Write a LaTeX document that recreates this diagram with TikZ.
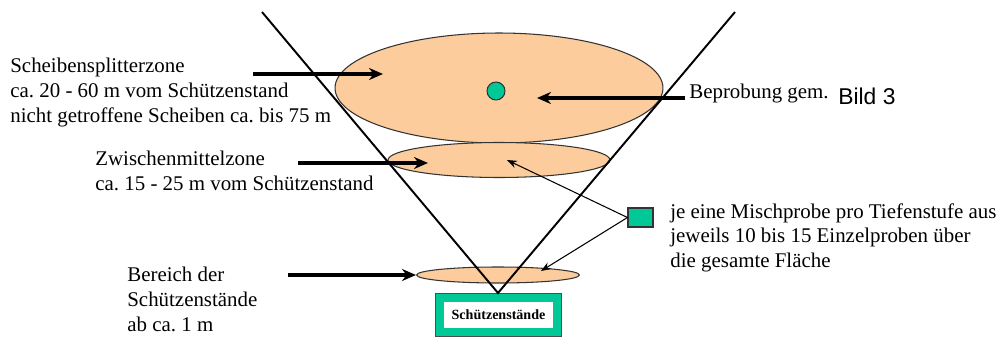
\documentclass[tikz,border=0pt]{standalone}
\usepackage{fontspec}
\setmainfont{Liberation Serif}
\setsansfont{Liberation Sans}
\usetikzlibrary{shapes.geometric, arrows.meta, positioning, calc}
\definecolor{zonefill}{RGB}{252,204,156}
\definecolor{probegreen}{RGB}{0,200,150}
\frenchspacing

\begin{document}
\begin{tikzpicture}[
      x=0.02cm, y=-0.02cm,
      font=\fontsize{11.9}{14}\selectfont,
      zone/.style={
          draw=black!80,
          ellipse,
          fill=zonefill,
          line width=0.6pt,
          inner sep=0pt
      },
      lbl/.style={
          anchor=north west,
          align=left,
          inner sep=0pt
      },
      standbox/.style={
          draw=black!70,
          double=probegreen,
          double distance=0.16cm,
          line width=0.4pt,
          fill=white,
          minimum width=2.36cm,
          minimum height=0.7cm
      },
      probemark/.style={
          draw=black!80,
          fill=probegreen,
          line width=0.6pt
      },
      bigarrow/.style={-{Stealth[length=2.8mm,width=2.4mm]}, line width=1.8pt},
      thinarrow/.style={-{Stealth[length=2mm,width=1.5mm]}, line width=0.6pt},
      vline/.style={line width=1.1pt}
  ]
      \useasboundingbox (0,0) rectangle (1002,338);

      % --- Zones ---
      \node[zone, minimum width=6.56cm, minimum height=2.2cm] (splitzone) at (499,88) {};
      \node[zone, minimum width=4.44cm, minimum height=0.7cm] (midzone) at (499,160) {};
      \node[zone, minimum width=3.26cm, minimum height=0.32cm] (standzone) at (498,275) {};

      % --- Sampling marks ---
      \node[probemark, circle, minimum size=0.36cm, inner sep=0pt] (dot) at (496,91) {};
      \node[probemark, minimum width=0.5cm, minimum height=0.38cm, inner sep=0pt] (mix) at (640.5,217.5) {};

      % --- Shooting stands ---
      \node[standbox, font=\fontsize{8}{9}\selectfont\bfseries] (stand) at (498.5,315) {Schützenstände};

      % --- Firing cone ---
      \coordinate (apex) at (498,293);
      \coordinate (leftend) at (262,12);
      \coordinate (rightend) at (735,12);
      \draw[vline] (leftend) -- (apex) -- (rightend);

      % --- Labels ---
      \node[lbl] (splitlbl) at (10,58) {Scheibensplitterzone\\ca. 20 - 60 m vom Schützenstand\\nicht getroffene Scheiben ca. bis 75 m};
      \node[lbl] (midlbl) at (95,151) {Zwischenmittelzone\\ca. 15 - 25 m vom Schützenstand};
      \node[lbl] (standlbl) at (127,267) {Bereich der\\Schützenstände\\ab ca. 1 m};
      \node[lbl] (mixlbl) at (670,203) {je eine Mischprobe pro Tiefenstufe aus\\jeweils 10 bis 15 Einzelproben über\\die gesamte Fläche};
      \node[anchor=base west, inner sep=0pt] (probelbl) at (689,98) {Beprobung gem.};
      \node[anchor=base west, inner sep=0pt, font=\sffamily\fontsize{13}{15}\selectfont] (bildlbl) at (838,104) {Bild 3};

      % --- Arrows ---
      \coordinate (splitfrom) at (253,74);
      \coordinate (splitto) at (383,74);
      \coordinate (probefrom) at (685,98);
      \coordinate (probeto) at (537,98);
      \coordinate (midfrom) at (298,163);
      \coordinate (midto) at (428,163);
      \coordinate (standfrom) at (288,275);
      \draw[bigarrow] (splitfrom) -- (splitto);
      \draw[bigarrow] (probefrom) -- (probeto);
      \draw[bigarrow] (midfrom) -- (midto);
      \draw[bigarrow] (standfrom) -- (standzone.west);

      \coordinate (midhit) at (507,160);
      \coordinate (standhit) at (541,271);
      \draw[thinarrow] (mix.west) -- (midhit);
      \draw[thinarrow] (mix.west) -- (standhit);

  \end{tikzpicture}
\end{document}
